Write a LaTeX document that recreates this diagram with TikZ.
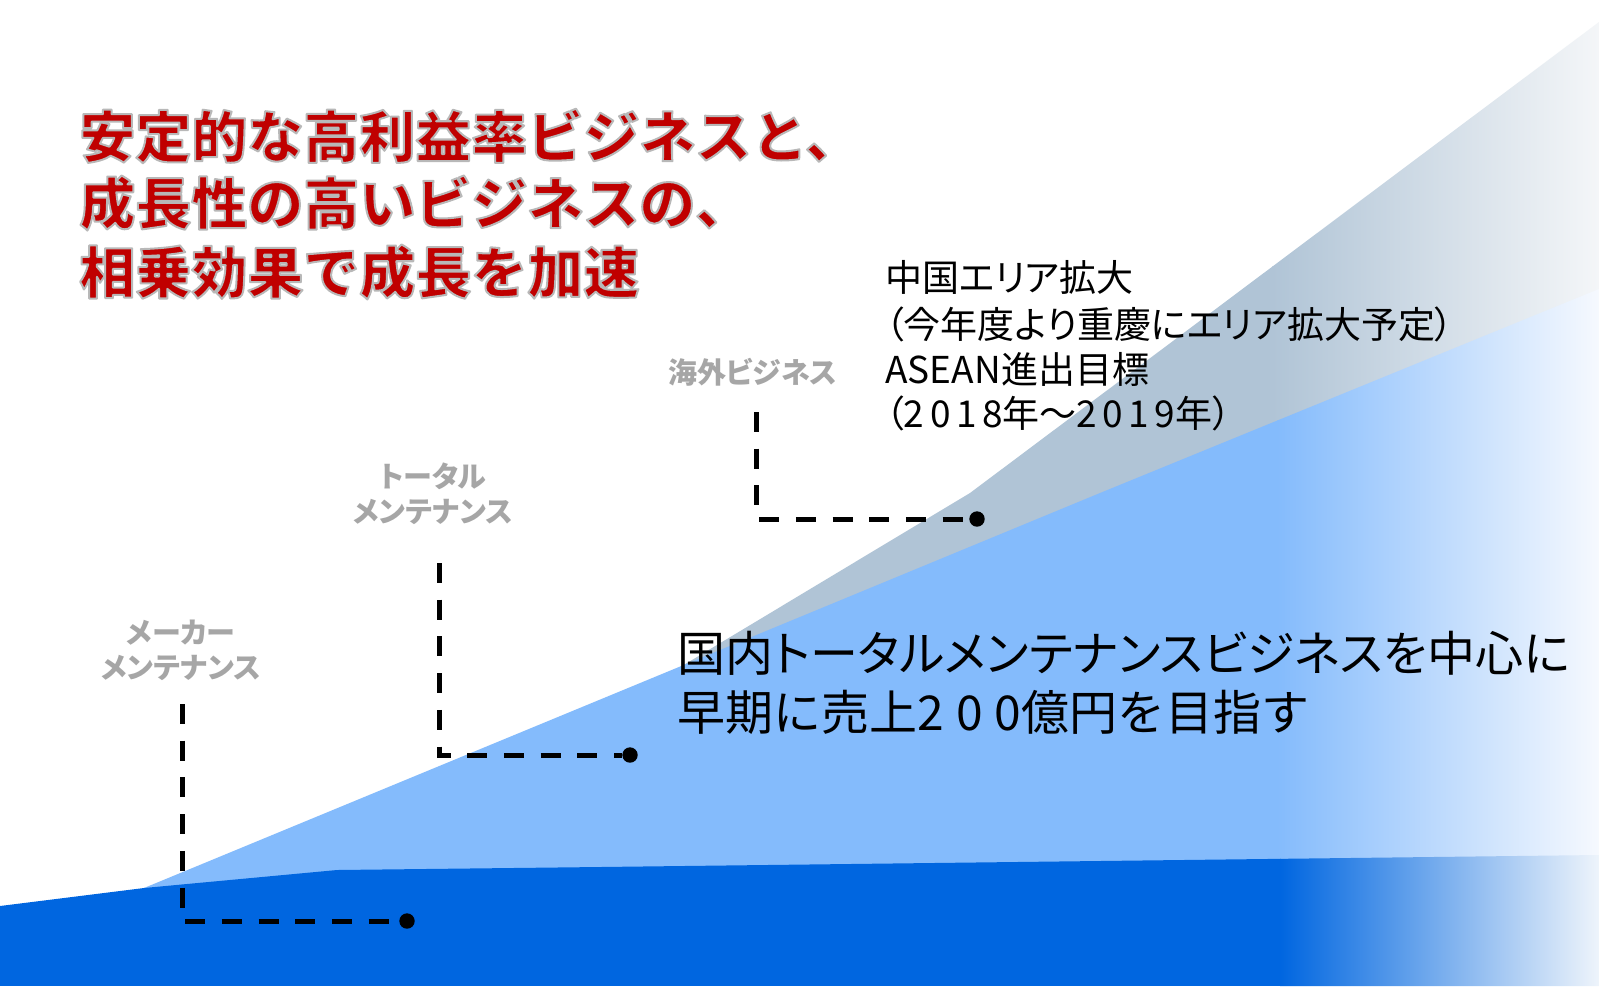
\documentclass[tikz,border=0pt]{standalone}
\usepackage{fontspec}
\setmainfont{Noto Sans CJK JP}
\newfontfamily\jpp[RawFeature=+palt]{Noto Sans CJK JP}
\definecolor{dblue}{HTML}{0066E0}
\definecolor{dblueend}{HTML}{EEF4FB}
\definecolor{lblue}{HTML}{84BBFC}
\definecolor{lblueend}{HTML}{F6F9FE}
\definecolor{sgray}{HTML}{B0C4D6}
\definecolor{sgrayend}{HTML}{F4F6F8}
\definecolor{titlered}{HTML}{C00000}
\definecolor{lblgray}{HTML}{A6A6A6}
\newcommand{\glowon}{\special{pdf:literal direct 0.72 G 1.0 w 1 j 2 Tr}}
\newcommand{\glowoff}{\special{pdf:literal direct 0 Tr}}
\tikzset{
  titletext/.style={anchor=west, inner sep=0pt, text=titlered, font=\fontsize{28pt}{28pt}\selectfont\bfseries},
  blocktext/.style={anchor=west, inner sep=0pt, font=\jpp\fontsize{18.5pt}{18.5pt}\selectfont},
  maintext/.style={anchor=west, inner sep=0pt, font=\jpp\fontsize{24pt}{24pt}\selectfont},
  maintextb/.style={anchor=west, inner sep=0pt, font=\fontsize{24pt}{24pt}\selectfont},
  lbl/.style={inner sep=0pt, align=center, text=lblgray, font=\jpp\bfseries\fontsize{14.5pt}{17.5pt}\selectfont},
  dashline/.style={line width=2.5pt, dash pattern=on 10pt off 8.35pt},
  dotnode/.style={circle, fill=black, inner sep=0pt, minimum size=7.7pt},
}
\begin{document}
\begin{tikzpicture}[x=0.5pt,y=-0.5pt]
\useasboundingbox (0,0) rectangle (1599,986);
\fill[white] (0,0) rectangle (1599,986);
% gray (overseas) band
\begin{scope}
  \clip (677,669) -- (970,493) -- (1599,22) -- (1599,310) -- cycle;
  \fill[sgray] (600,0) rectangle (1273,700);
  \shade[left color=sgray, right color=sgrayend] (1272,0) rectangle (1599,700);
\end{scope}
% light blue (total maintenance) band
\begin{scope}
  \clip (144,888) -- (1100,493) -- (1599,289) -- (1599,875) -- (144,892) -- cycle;
  \fill[lblue] (100,250) rectangle (1278,986);
  \shade[left color=lblue, right color=lblueend] (1277,250) rectangle (1599,986);
\end{scope}
% dark blue (maker maintenance) band
\begin{scope}
  \clip (0,906) -- (144,888) -- (337,870) -- (600,867) -- (1599,855) -- (1599,986) -- (0,986) -- cycle;
  \fill[dblue] (0,840) rectangle (1281,986);
  \shade[left color=dblue, right color=dblueend] (1280,840) rectangle (1599,986);
\end{scope}
% title
\node[titletext] (ti1) at (79,136) {\glowon 安定的な高利益率ビジネスと、\glowoff};
\node[titletext] (ti2) at (79,203) {\glowon 成長性の高いビジネスの、\glowoff};
\node[titletext] (ti3) at (79,272) {\glowon 相乗効果で成長を加速\glowoff};
% labels
\node[lbl] (lmaker) at (181,650) {メーカー\\メンテナンス};
\node[lbl] (ltotal) at (433,494) {トータル\\メンテナンス};
\node[lbl] (lover) at (753,372) {海外ビジネス};
% dashed leaders
\coordinate (m0) at (182,704);
\node[dotnode] (md) at (407,921) {};
\coordinate (t0) at (439,563);
\node[dotnode] (td) at (630,755) {};
\coordinate (o0) at (756,412);
\node[dotnode] (od) at (977,519) {};
\draw[dashline] (m0) |- (md);
\draw[dashline] (t0) |- (td);
\draw[dashline] (o0) |- (od);
% overseas text block
\node[blocktext] (b1) at (885,277) {中国エリア拡大};
\node[blocktext] (b2) at (885,324) {（今年度より重慶にエリア拡大予定）};
\node[blocktext] (b3) at (885,369) {ASEAN進出目標};
\node[blocktext] (b4) at (885,413) {（{\addfontfeature{LetterSpace=15}2018}年～{\addfontfeature{LetterSpace=15}2019}年）};
% domestic text
\node[maintext] (g1) at (677,653) {国内トータルメンテナンスビジネスを中心に};
\node[maintextb] (g2) at (677,712) {早期に売上{\addfontfeature{LetterSpace=25}200}億円を目指す};
\end{tikzpicture}
\end{document}
